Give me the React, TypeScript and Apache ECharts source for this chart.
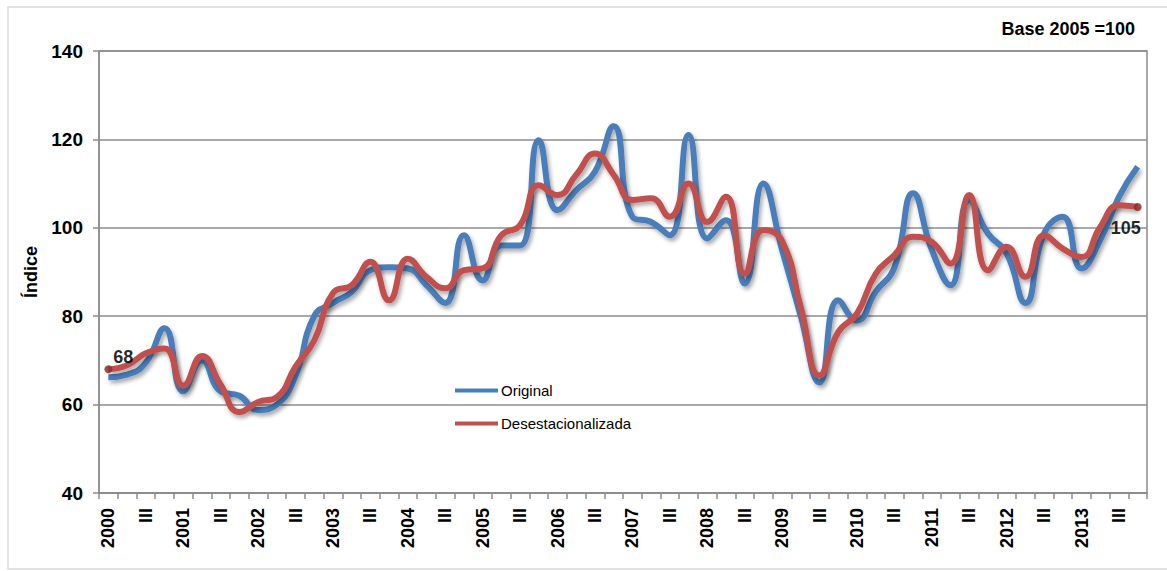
import React, { useEffect, useRef } from "react";
import * as echarts from "echarts";

const years = [2000, 2001, 2002, 2003, 2004, 2005, 2006, 2007, 2008, 2009, 2010, 2011, 2012, 2013];
const quarterNames = ["", "II", "III", "IV"];
const categories: string[] = [];
years.forEach((y) => quarterNames.forEach((q, i) => categories.push(i === 0 ? String(y) : q)));

const original = [
  66.2, 66.8, 69.5, 77.3, 63, 70, 63, 62, 58.8, 60,
  66.5, 80, 83, 85.5, 90.4, 91.1, 90.8, 87, 83, 98.3,
  88.1, 96, 96, 119.8, 104, 108.5, 112.7, 123, 102.5, 101.3,
  98.3, 121, 97.6, 101.7, 87.4, 110, 95, 80, 65, 83.6,
  79, 85.5, 91, 107.8, 95, 87, 106.3, 98.7, 94.2, 83,
  98.7, 102.5, 90.8, 97.2, 107, 113.8,
];

const desestacionalizada = [
  68, 68.9, 71.6, 72.7, 64.3, 71, 64.5, 58.3, 60.6, 61.7,
  68.6, 74.5, 85.2, 87, 92.3, 83.6, 93, 88.9, 86.3, 90.4,
  90.8, 98.3, 100.6, 109.6, 107.4, 112, 116.8, 112, 106.3, 106.7,
  102.5, 110, 101.3, 107, 89.6, 99.5, 97, 82, 66.6, 76.4,
  80.6, 89.6, 93.8, 98, 96.8, 91.9, 107.4, 90.4, 95.7, 88.9,
  98.3, 95.3, 93.4, 100.2, 105.1, 104.7,
];

const FONT = "'Liberation Sans', Arial, sans-serif";

export default function App() {
  const ref = useRef<HTMLDivElement>(null);
  useEffect(() => {
    if (!ref.current) return;
    const chart = echarts.init(ref.current, undefined, { renderer: "svg" });
    const last = desestacionalizada.length - 1;
    const redData = desestacionalizada.map((v, i) => {
      if (i === 0 || i === last) {
        return {
          value: v,
          symbol: "circle",
          symbolSize: 8,
          itemStyle: { color: "#8e2f2c", opacity: 0.85 },
          label: {
            show: true,
            formatter: (p: any) => String(Math.round(p.value)),
            position: "inside",
            offset: i === 0 ? [15, -12] : [-12, 21],
            color: "#000",
            fontFamily: FONT,
            fontWeight: "bold",
            fontSize: 18,
          },
        };
      }
      return { value: v, symbol: "none" };
    });
    const shadow = {
      shadowColor: "rgba(0,0,0,0.35)",
      shadowBlur: 4,
      shadowOffsetX: 2,
      shadowOffsetY: 3,
    };
    chart.setOption({
      animation: false,
      backgroundColor: "#fff",
      textStyle: { fontFamily: FONT },
      graphic: [
        {
          type: "rect",
          shape: { x: 8, y: 7, width: 1175, height: 562 },
          style: { fill: "none", stroke: "#e4e4e4", lineWidth: 2 },
          silent: true,
        },
        {
          type: "text",
          right: 32,
          top: 20,
          style: {
            text: "Base 2005 =100",
            fill: "#000",
            font: `bold 18px ${FONT}`,
          },
        },
      ],
      grid: {
        left: 99,
        right: 20,
        top: 51,
        bottom: 78,
        show: true,
        borderColor: "#8c8c8c",
        borderWidth: 1.5,
      },
      legend: {
        orient: "vertical",
        left: 450,
        top: 378,
        icon: "rect",
        itemWidth: 43,
        itemHeight: 4,
        itemGap: 18,
        textStyle: { fontFamily: FONT, fontSize: 15, color: "#000", padding: [0, 0, 0, -2] },
        data: ["Original", "Desestacionalizada"],
      },
      xAxis: {
        type: "category",
        data: categories,
        boundaryGap: true,
        axisLine: { lineStyle: { color: "#8c8c8c", width: 1.5 } },
        axisTick: { show: true, interval: 0, length: 6, lineStyle: { color: "#8c8c8c", width: 1.5 } },
        axisLabel: {
          interval: 1,
          rotate: 90,
          margin: 15,
          color: "#000",
          fontFamily: FONT,
          fontWeight: "bold",
          fontSize: 18,
        },
        splitLine: { show: false },
      },
      yAxis: {
        type: "value",
        min: 40,
        max: 140,
        interval: 20,
        name: "Índice",
        nameLocation: "middle",
        nameRotate: 90,
        nameGap: 48,
        nameTextStyle: { color: "#000", fontFamily: FONT, fontWeight: "bold", fontSize: 18 },
        axisLine: { show: true, lineStyle: { color: "#8c8c8c", width: 1.5 } },
        axisTick: { show: true, length: 6, lineStyle: { color: "#8c8c8c", width: 1.5 } },
        axisLabel: {
          margin: 16,
          color: "#000",
          fontFamily: FONT,
          fontWeight: "bold",
          fontSize: 19,
        },
        splitLine: { lineStyle: { color: "#8c8c8c", width: 1.5 } },
      },
      series: [
        {
          name: "Original",
          type: "line",
          data: original,
          smooth: 0.5,
          symbol: "none",
          color: "#4a7ebb",
          lineStyle: { color: "#4a7ebb", width: 6, ...shadow },
          z: 2,
        },
        {
          name: "Desestacionalizada",
          type: "line",
          data: redData,
          smooth: 0.5,
          showSymbol: true,
          symbol: "none",
          color: "#c0504d",
          lineStyle: { color: "#c0504d", width: 6, ...shadow },
          z: 3,
        },
      ],
    });
    return () => chart.dispose();
  }, []);
  return (
    <div
      ref={ref}
      style={{ position: "absolute", left: 0, top: 0, width: 1167, height: 571 }}
    />
  );
}
